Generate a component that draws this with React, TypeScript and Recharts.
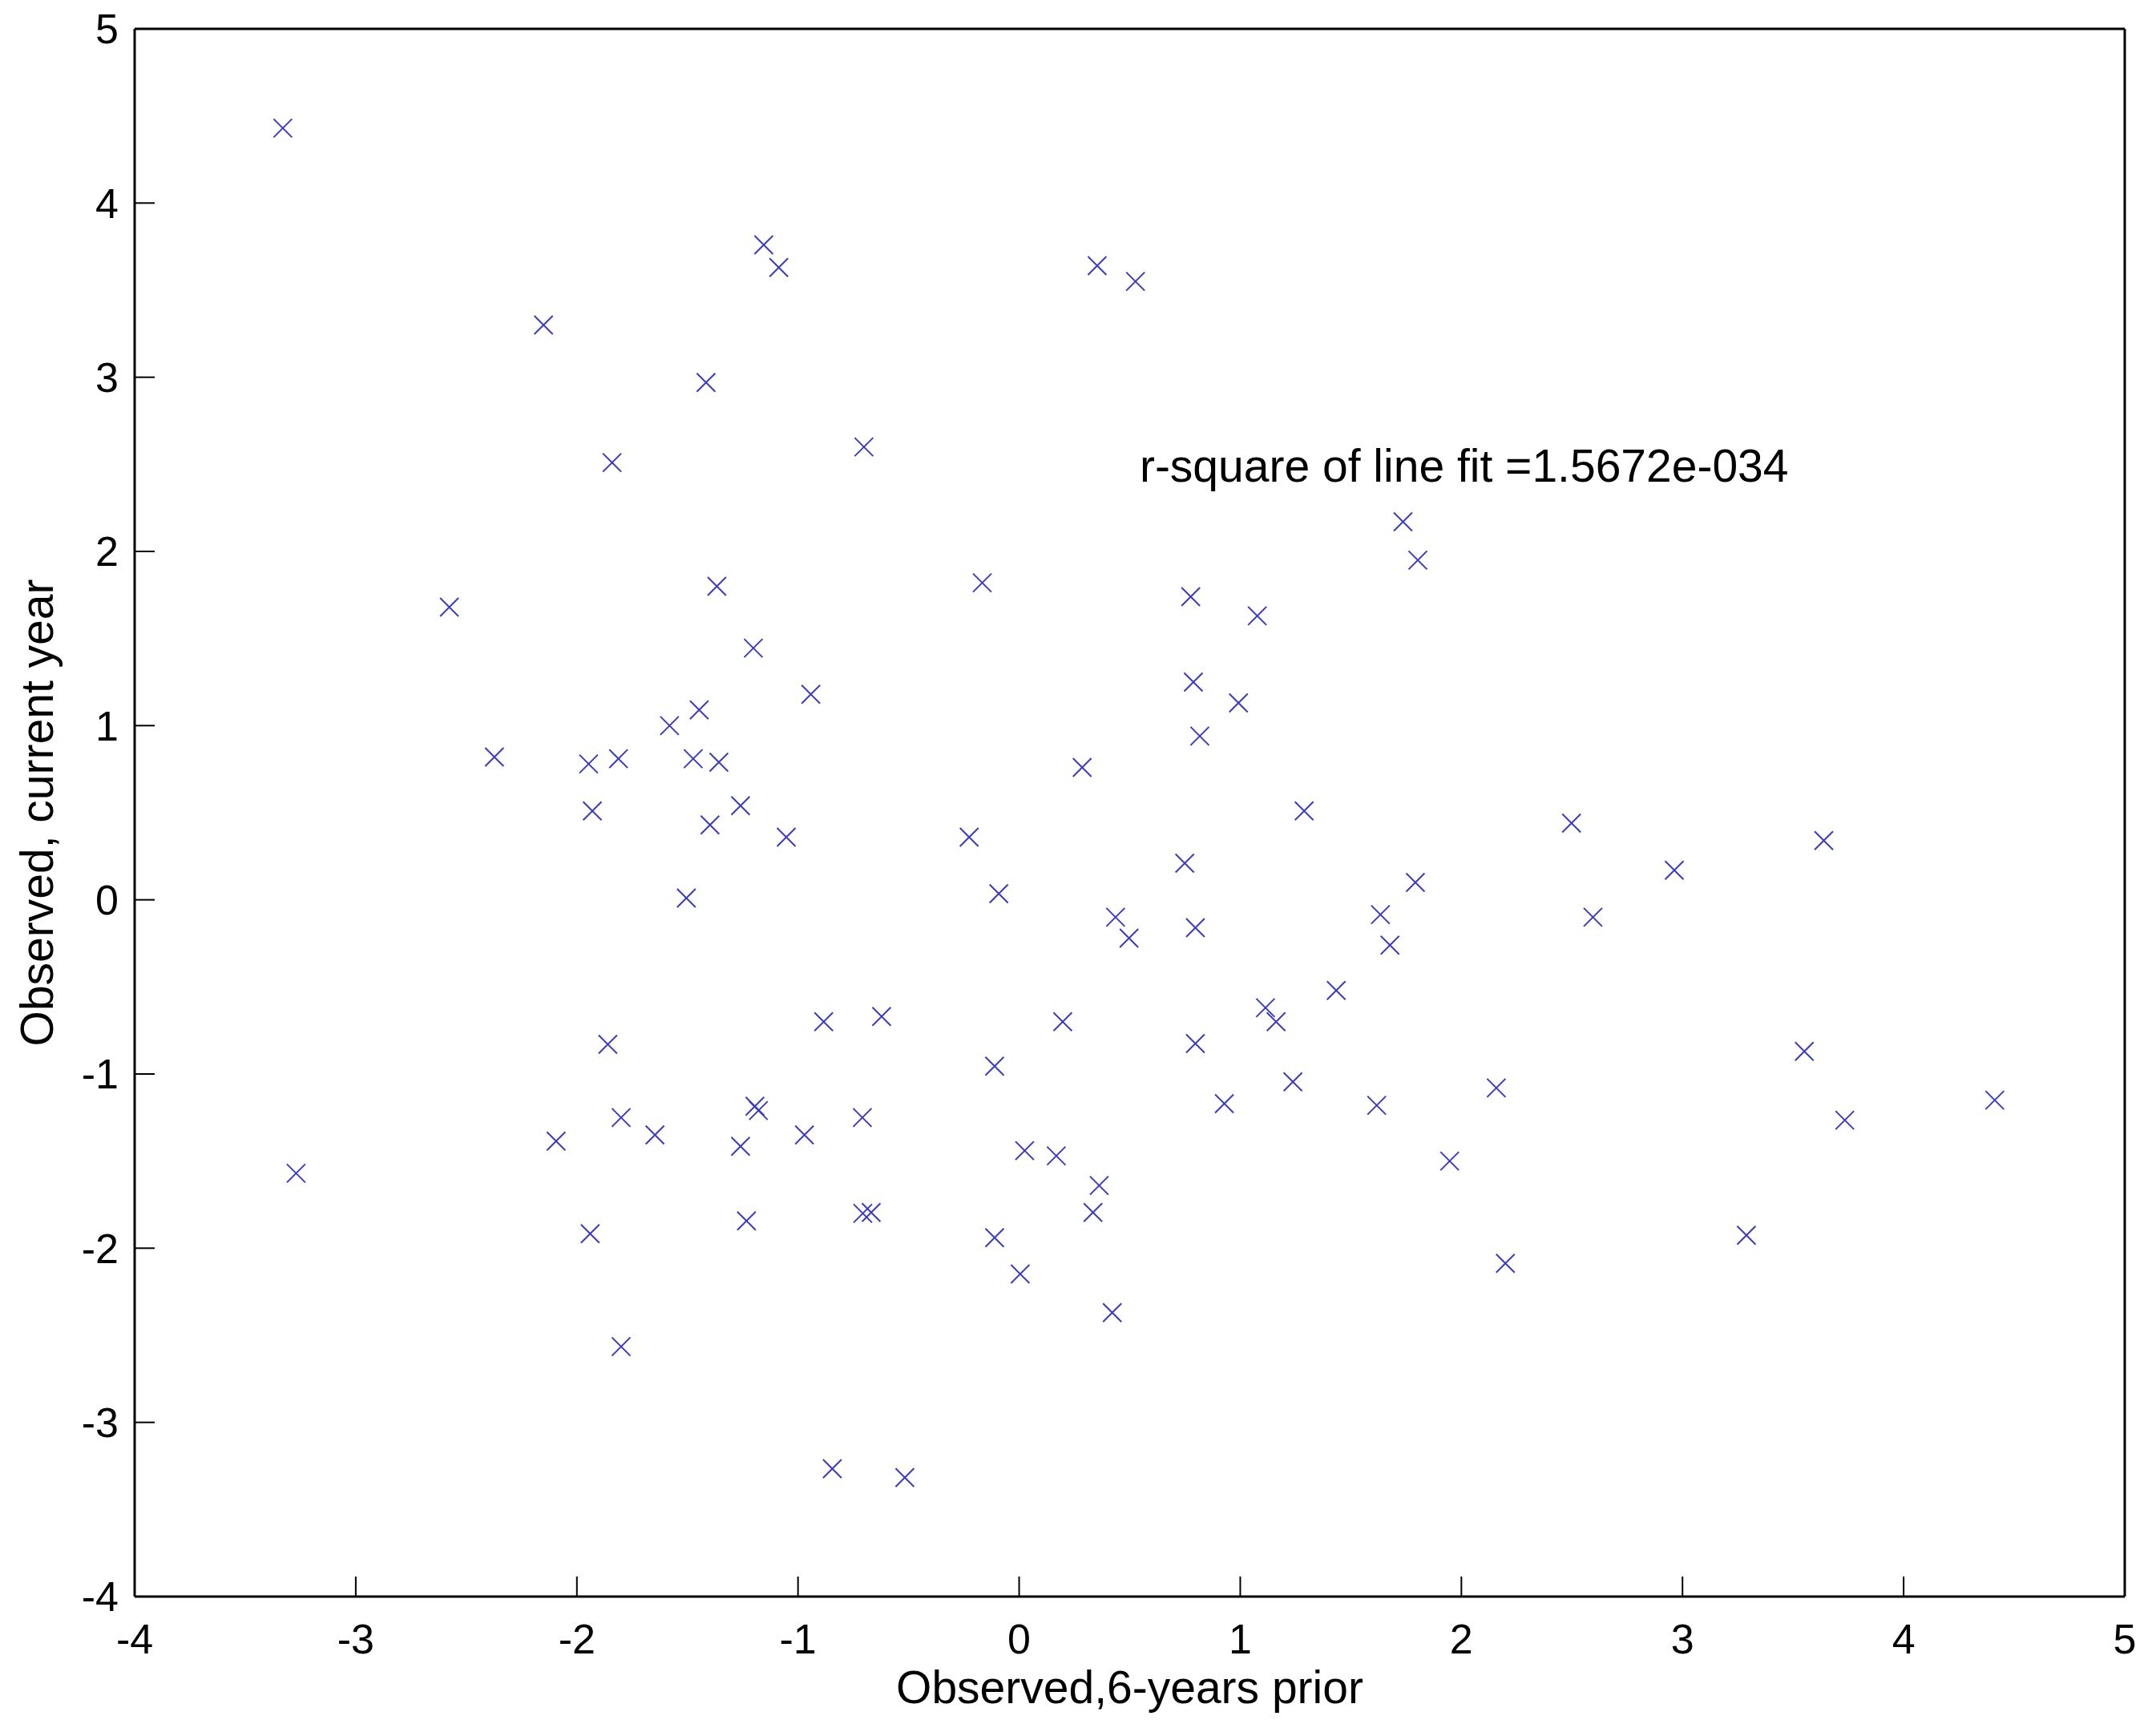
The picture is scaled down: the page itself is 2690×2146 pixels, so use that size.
import { ReferenceDot, Scatter, ScatterChart, XAxis, YAxis } from 'recharts'

// values (observed 6 years prior vs. current year)
const xPrior = [
  -3.33, -1.155, -1.087, 0.353, 0.526, -2.151, -1.416, -1.841, -0.702, 1.736,
  1.803, -2.577, -1.367, -0.167, 0.776, 1.077, -1.202, 0.788, -0.942, 0.992,
  -1.447, -1.581, 0.817, -2.373, -1.947, -1.812, -1.474, -1.358, 0.285, -1.93,
  -1.26, 1.289, -1.398, 2.498, -1.053, -0.226, 3.639, 2.963, 0.749, -1.505,
  -0.092, 1.792, 0.436, 1.634, 2.595, 0.497, 0.797, 1.677, 1.434, 1.114,
  1.162, -0.622, -0.884, 0.197, -1.86, 0.797, 3.551, -0.111, 1.238, 2.158,
  0.928, 1.617, 4.412, -1.195, -1.179, -1.8, -0.709, 3.734, -1.647, -0.971,
  -2.094, -1.26, 0.025, 0.168, 1.947, -3.27, 0.362, 0.334, -0.707, -0.669,
  -1.233, -1.94, 3.289, -0.111, 0.005, 2.199, 0.421, -1.8, -0.845, -0.517,
]

const yCurrent = [
  4.43, 3.76, 3.63, 3.64, 3.55, 3.3, 2.97, 2.51, 2.6, 2.17,
  1.95, 1.68, 1.8, 1.82, 1.74, 1.63, 1.445, 1.25, 1.18, 1.13,
  1.09, 1.0, 0.94, 0.82, 0.78, 0.81, 0.81, 0.79, 0.76, 0.51,
  0.54, 0.51, 0.43, 0.44, 0.36, 0.36, 0.34, 0.17, 0.21, 0.01,
  0.035, 0.1, -0.1, -0.085, -0.1, -0.22, -0.16, -0.26, -0.52, -0.62,
  -0.7, -0.67, -0.7, -0.7, -0.83, -0.825, -0.87, -0.955, -1.045, -1.08,
  -1.17, -1.18, -1.15, -1.185, -1.21, -1.25, -1.25, -1.265, -1.35, -1.35,
  -1.385, -1.415, -1.44, -1.47, -1.5, -1.57, -1.64, -1.795, -1.8, -1.795,
  -1.843, -1.917, -1.926, -1.94, -2.148, -2.087, -2.37, -2.565, -3.266, -3.317,
]

const axisTicks = [-4, -3, -2, -1, 0, 1, 2, 3, 4, 5]
const xLabel = 'Observed,6-years prior'
const yLabel = 'Observed, current year'
const fitText = 'r-square of line fit =1.5672e-034'
const fitTextAt = { x: 0.545, y: 2.492 }

const points = xPrior.map((x, i) => ({ x, y: yCurrent[i] }))

const FONT = '"Liberation Sans", Arial, Helvetica, sans-serif'
const MARKER = '#3c3cba'
const axisLine = { stroke: '#000', strokeWidth: 3 }
const tickLine = { stroke: '#000', strokeWidth: 2 }
const tickText = { fill: '#000', fontSize: 52, fontFamily: FONT }

function CrossMarker(props: any) {
  const { cx, cy } = props
  if (cx == null || cy == null) return <g />
  const s = 11.5
  return (
    <path
      d={`M${cx - s},${cy - s}L${cx + s},${cy + s}M${cx - s},${cy + s}L${cx + s},${cy - s}`}
      stroke={MARKER}
      strokeWidth={2}
      fill="none"
    />
  )
}

function XTitle({ viewBox }: any) {
  return (
    <text
      x={viewBox.x + viewBox.width / 2}
      y={viewBox.y + 133}
      textAnchor="middle"
      fontSize={57}
      fontFamily={FONT}
      fill="#000"
    >
      {xLabel}
    </text>
  )
}

function YTitle({ viewBox }: any) {
  const cx = viewBox.x + 66
  const cy = viewBox.y + viewBox.height / 2
  return (
    <text
      x={cx}
      y={cy}
      transform={`rotate(-90 ${cx} ${cy})`}
      textAnchor="middle"
      fontSize={57}
      fontFamily={FONT}
      fill="#000"
    >
      {yLabel}
    </text>
  )
}

export default function App() {
  return (
    <div style={{ position: 'absolute', left: 0, top: 0, width: 2690, height: 2146, background: '#fff' }}>
      <ScatterChart width={2690} height={2146} margin={{ top: 0, right: 0, bottom: 0, left: 0 }}>
        <XAxis
          xAxisId="bottom"
          type="number"
          dataKey="x"
          domain={[-4, 5]}
          ticks={axisTicks}
          interval={0}
          allowDataOverflow
          height={154}
          tickSize={-25}
          tickMargin={59}
          axisLine={axisLine}
          tickLine={tickLine}
          tick={tickText}
          label={XTitle}
        />
        <XAxis
          xAxisId="top"
          orientation="top"
          type="number"
          domain={[-4, 5]}
          ticks={axisTicks}
          interval={0}
          allowDataOverflow
          height={36}
          tickSize={-25}
          axisLine={axisLine}
          tickLine={tickLine}
          tick={false}
        />
        <YAxis
          yAxisId="left"
          type="number"
          dataKey="y"
          domain={[-4, 5]}
          ticks={axisTicks}
          interval={0}
          allowDataOverflow
          width={168}
          tickSize={-25}
          tickMargin={45}
          axisLine={axisLine}
          tickLine={tickLine}
          tick={tickText}
          label={YTitle}
        />
        <YAxis
          yAxisId="right"
          orientation="right"
          type="number"
          domain={[-4, 5]}
          ticks={axisTicks}
          interval={0}
          allowDataOverflow
          width={39}
          tickSize={-25}
          axisLine={axisLine}
          tickLine={tickLine}
          tick={false}
        />
        <Scatter
          data={points}
          xAxisId="bottom"
          yAxisId="left"
          shape={CrossMarker}
          isAnimationActive={false}
        />
        <ReferenceDot
          xAxisId="bottom"
          yAxisId="left"
          x={fitTextAt.x}
          y={fitTextAt.y}
          r={0}
          fill="none"
          stroke="none"
          label={{
            value: fitText,
            position: 'right',
            offset: 0,
            fill: '#000',
            fontSize: 57,
            fontFamily: FONT,
          }}
        />
      </ScatterChart>
    </div>
  )
}
